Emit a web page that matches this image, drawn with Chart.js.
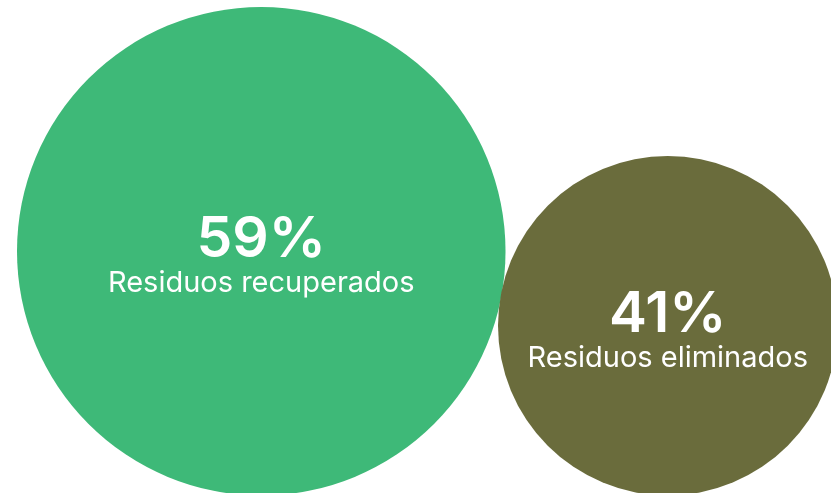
<!DOCTYPE html>
<html>
<head>
<meta charset="utf-8">
<script src="https://cdn.jsdelivr.net/npm/chart.js@4"></script>
<style>
  html, body { margin: 0; padding: 0; background: #ffffff; }
  #wrap { width: 831px; height: 493px; position: relative; }
</style>
</head>
<body>
<div id="wrap"><canvas id="wasteChart"></canvas></div>
<script>
// data
const categories = ['Residuos recuperados', 'Residuos eliminados'];
const shares = [59, 41];
const valueLabels = ['59%', '41%'];
const colors = ['#3eb978', '#6a6c3c'];

// pixels of radius per percentage point
const pxPerPoint = 4.14;
// where each circle's bounding box starts (left, top), in canvas px
const boxLeft = [17, 498];
const boxTop = [7, 156];

document.addEventListener('DOMContentLoaded', () => {
    const radii = shares.map(v => v * pxPerPoint);
    const points = shares.map((v, i) => ({
        x: boxLeft[i] + radii[i],
        y: boxTop[i] + radii[i],
        r: radii[i]
    }));

    const bubbleLabels = {
        id: 'bubbleLabels',
        afterDatasetsDraw(chart) {
            const ctx = chart.ctx;
            const meta = chart.getDatasetMeta(0);
            ctx.save();
            ctx.fillStyle = '#ffffff';
            ctx.textAlign = 'center';
            ctx.textBaseline = 'alphabetic';
            meta.data.forEach((el, i) => {
                ctx.font = '600 57px Inter';
                ctx.fillText(valueLabels[i], el.x, el.y + 6);
                ctx.font = '400 29px Inter';
                ctx.fillText(categories[i], el.x, el.y + 41);
            });
            ctx.restore();
        }
    };

    new Chart(document.getElementById('wasteChart').getContext('2d'), {
        type: 'bubble',
        data: {
            labels: categories,
            datasets: [{
                data: points,
                backgroundColor: colors,
                borderWidth: 0,
                hoverBorderWidth: 0,
                hoverRadius: 0
            }]
        },
        options: {
            responsive: true,
            maintainAspectRatio: false,
            animation: false,
            // bubble charts pad the chart area by the largest radius; turn that off
            layout: { padding: 0, autoPadding: false },
            clip: false,
            scales: {
                x: { type: 'linear', min: 0, max: 831, display: false },
                y: { type: 'linear', min: 0, max: 493, reverse: true, display: false }
            },
            plugins: {
                legend: { display: false },
                tooltip: { enabled: false }
            }
        },
        plugins: [bubbleLabels]
    });
});
</script>
</body>
</html>
